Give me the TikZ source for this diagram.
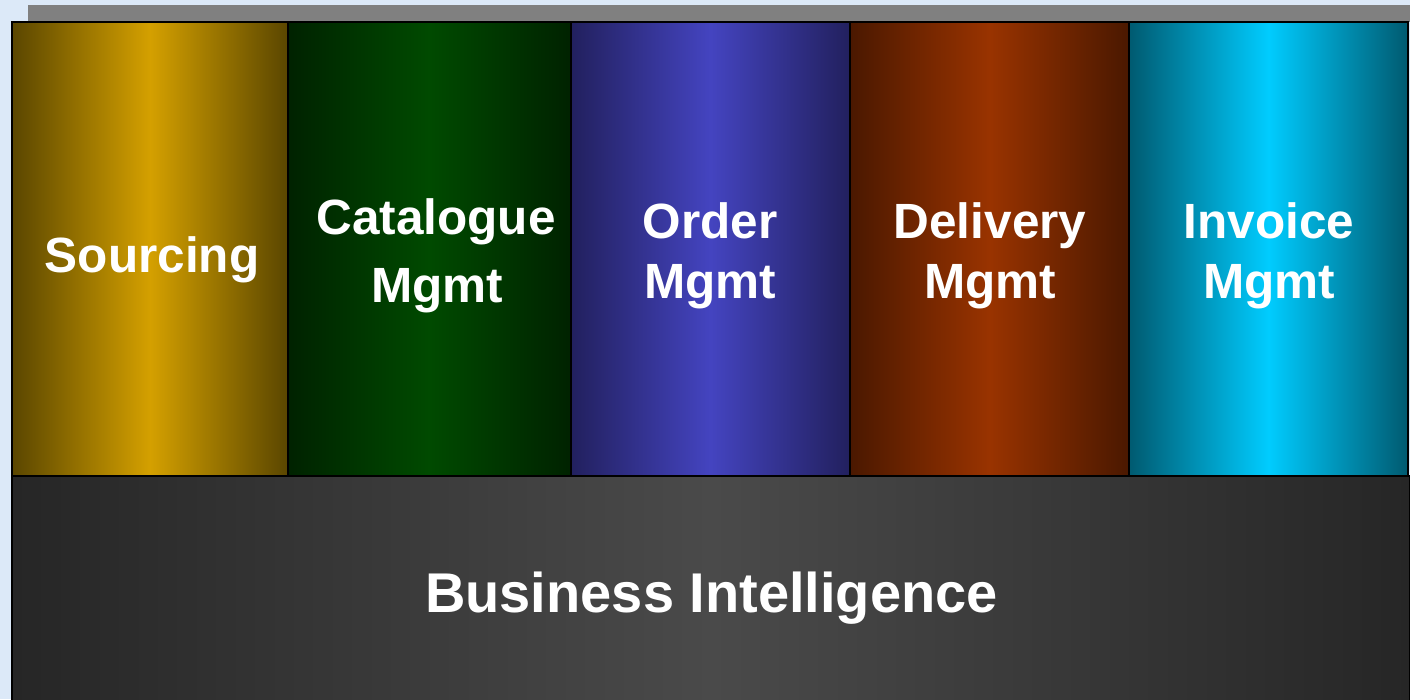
\documentclass[tikz,border=0pt]{standalone}
\usepackage{fontspec}
\setmainfont{Liberation Sans}
\definecolor{bgblue}{HTML}{DCE9F8}
\definecolor{shadowgray}{HTML}{808080}
\definecolor{srcE}{HTML}{5A4600}\definecolor{srcC}{HTML}{D4A000}
\definecolor{catE}{HTML}{002200}\definecolor{catC}{HTML}{004A00}
\definecolor{ordE}{HTML}{22205E}\definecolor{ordC}{HTML}{4444C0}
\definecolor{delE}{HTML}{4A1800}\definecolor{delC}{HTML}{993300}
\definecolor{invE}{HTML}{005A70}\definecolor{invC}{HTML}{00CCFF}
\definecolor{biE}{HTML}{262626}\definecolor{biC}{HTML}{4A4A4A}
\tikzset{
  colbox/.style={draw=black, line width=1.6pt, inner sep=0pt, outer sep=0pt,
    minimum height=454pt, anchor=north west},
  coltext/.style={text=white, font=\fontsize{49.5}{58}\selectfont\bfseries, anchor=base, inner sep=0pt},
  bitext/.style={text=white, font=\fontsize{56}{66}\selectfont\bfseries, anchor=base, inner sep=0pt},
}
\begin{document}
\begin{tikzpicture}[x=1pt,y=-1pt]
\useasboundingbox (0,0) rectangle (1410,699);
\clip (0,0) rectangle (1410,699);
\fill[bgblue] (0,0) rectangle (1410,699);
\fill[shadowgray] (28,5) rectangle (1420,22);
% business intelligence box
\node[draw=black, line width=1.6pt, inner sep=0pt, outer sep=0pt, anchor=north west,
  minimum width=1398pt, minimum height=240pt,
  left color=biE, right color=biE, middle color=biC] (bi) at (12,476) {};
% columns
\node[colbox, minimum width=276pt, left color=srcE, right color=srcE, middle color=srcC] (src) at (12,22) {};
\node[colbox, minimum width=283pt, left color=catE, right color=catE, middle color=catC] (cat) at (288,22) {};
\node[colbox, minimum width=279pt, left color=ordE, right color=ordE, middle color=ordC] (ord) at (571,22) {};
\node[colbox, minimum width=279pt, left color=delE, right color=delE, middle color=delC] (del) at (850,22) {};
\node[colbox, minimum width=279pt, left color=invE, right color=invE, middle color=invC] (inv) at (1129,22) {};
% texts
\node[coltext] (srcT) at (152,272) {Sourcing};
\node[coltext] (catT1) at (436,234) {Catalogue};
\node[coltext] (catT2) at (437,302) {Mgmt};
\node[coltext] (ordT1) at (710,238) {Order};
\node[coltext] (ordT2) at (710,298) {Mgmt};
\node[coltext] (delT1) at (990,238) {Delivery};
\node[coltext] (delT2) at (990,298) {Mgmt};
\node[coltext] (invT1) at (1269,238) {Invoice};
\node[coltext] (invT2) at (1269,298) {Mgmt};
\node[bitext] (biT) at (711.5,612) {Business Intelligence};
\end{tikzpicture}
\end{document}
